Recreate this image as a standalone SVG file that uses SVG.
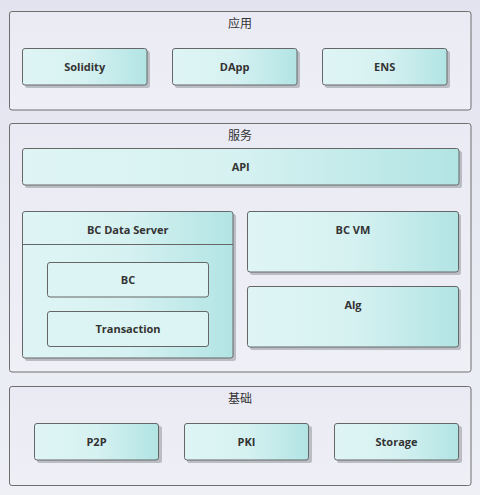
<svg xmlns="http://www.w3.org/2000/svg" width="480" height="495" viewBox="0 0 480 495">
<defs>
<linearGradient id="bg" x1="0" y1="0" x2="0" y2="1"><stop offset="0" stop-color="#e2e3ef"/><stop offset="1" stop-color="#eef0f6"/></linearGradient>
<linearGradient id="cf" x1="0" y1="0" x2="0" y2="1"><stop offset="0" stop-color="#e9eaf3"/><stop offset="1" stop-color="#eff0f6"/></linearGradient>
<linearGradient id="nf" x1="0" y1="0" x2="1" y2="0"><stop offset="0" stop-color="#dff5f5"/><stop offset="0.5" stop-color="#d6f1f1"/><stop offset="1" stop-color="#b2e4e4"/></linearGradient>
<linearGradient id="nf2" x1="0" y1="0" x2="1" y2="0"><stop offset="0" stop-color="#dcf4f4"/><stop offset="1" stop-color="#dcf4f4"/></linearGradient>
</defs>
<style>
.cont{fill:url(#cf);stroke:#6f6f6f;stroke-width:1}
.node{fill:url(#nf);stroke:#666;stroke-width:1}
.inner{fill:#dcf4f4;stroke:#666;stroke-width:1}
.sh{fill:#aeb0b8;opacity:0.8}
.ct{font-family:"Noto Sans CJK SC","Noto Sans",sans-serif;font-size:12px;fill:#333;text-anchor:middle}
.nt{font-family:"Open Sans","Noto Sans",sans-serif;font-size:11px;font-weight:bold;fill:#333;text-anchor:middle}
</style>
<rect x="0" y="0" width="480" height="495" fill="url(#bg)"/>

<g id="app">
<rect class="cont" x="9.5" y="11.5" width="461.5" height="98.5" rx="2.5"/>
<text class="ct" x="240" y="28">应用</text>
</g>
<g id="solidity"><rect class="sh" x="25" y="51" width="125" height="37" rx="2.5"/><rect class="node" x="22.5" y="48.5" width="124.5" height="36.5" rx="2.5"/><text class="nt" x="84.7" y="71">Solidity</text></g>
<g id="dapp"><rect class="sh" x="175" y="51" width="125" height="37" rx="2.5"/><rect class="node" x="172.5" y="48.5" width="124.5" height="36.5" rx="2.5"/><text class="nt" x="234.7" y="71">DApp</text></g>
<g id="ens"><rect class="sh" x="325" y="51" width="125" height="37" rx="2.5"/><rect class="node" x="322.5" y="48.5" width="124.5" height="36.5" rx="2.5"/><text class="nt" x="384.7" y="71">ENS</text></g>

<g id="service">
<rect class="cont" x="9.5" y="123.5" width="461.5" height="248.5" rx="2.5"/>
<text class="ct" x="240" y="140">服务</text>
</g>
<g id="api"><rect class="sh" x="25" y="151" width="437" height="37" rx="2.5"/><rect class="node" x="22.5" y="148.5" width="436.5" height="36.5" rx="2.5"/><text class="nt" x="240.7" y="171">API</text></g>
<g id="bcds">
<rect class="sh" x="25" y="214" width="211" height="147" rx="2.5"/>
<rect class="node" x="22.5" y="211.5" width="210.5" height="146.5" rx="2.5"/>
<line x1="22.5" y1="244.5" x2="233" y2="244.5" stroke="#666" stroke-width="1"/>
<text class="nt" x="127.7" y="234">BC Data Server</text>
</g>
<g id="bc"><rect class="inner" x="47.5" y="262.5" width="161" height="34.5" rx="2.5"/><text class="nt" x="128" y="284">BC</text></g>
<g id="transaction"><rect class="inner" x="47.5" y="311.5" width="161" height="35" rx="2.5"/><text class="nt" x="128" y="333">Transaction</text></g>
<g id="bcvm"><rect class="sh" x="250" y="214" width="211" height="61" rx="2.5"/><rect class="node" x="247.5" y="211.5" width="211" height="60.5" rx="2.5"/><text class="nt" x="353" y="234">BC VM</text></g>
<g id="alg"><rect class="sh" x="250" y="289" width="211" height="61" rx="2.5"/><rect class="node" x="247.5" y="286.5" width="211" height="60.5" rx="2.5"/><text class="nt" x="353" y="309">Alg</text></g>

<g id="base">
<rect class="cont" x="9.5" y="386.5" width="461.5" height="99" rx="2.5"/>
<text class="ct" x="240" y="403">基础</text>
</g>
<g id="p2p"><rect class="sh" x="37" y="426" width="125" height="37" rx="2.5"/><rect class="node" x="34.5" y="423.5" width="124" height="36.5" rx="2.5"/><text class="nt" x="96.5" y="446">P2P</text></g>
<g id="pki"><rect class="sh" x="187" y="426" width="125" height="37" rx="2.5"/><rect class="node" x="184.5" y="423.5" width="124" height="36.5" rx="2.5"/><text class="nt" x="246.5" y="446">PKI</text></g>
<g id="storage"><rect class="sh" x="337" y="426" width="125" height="37" rx="2.5"/><rect class="node" x="334.5" y="423.5" width="124" height="36.5" rx="2.5"/><text class="nt" x="396.5" y="446">Storage</text></g>
<g id="connectors"/>
</svg>
